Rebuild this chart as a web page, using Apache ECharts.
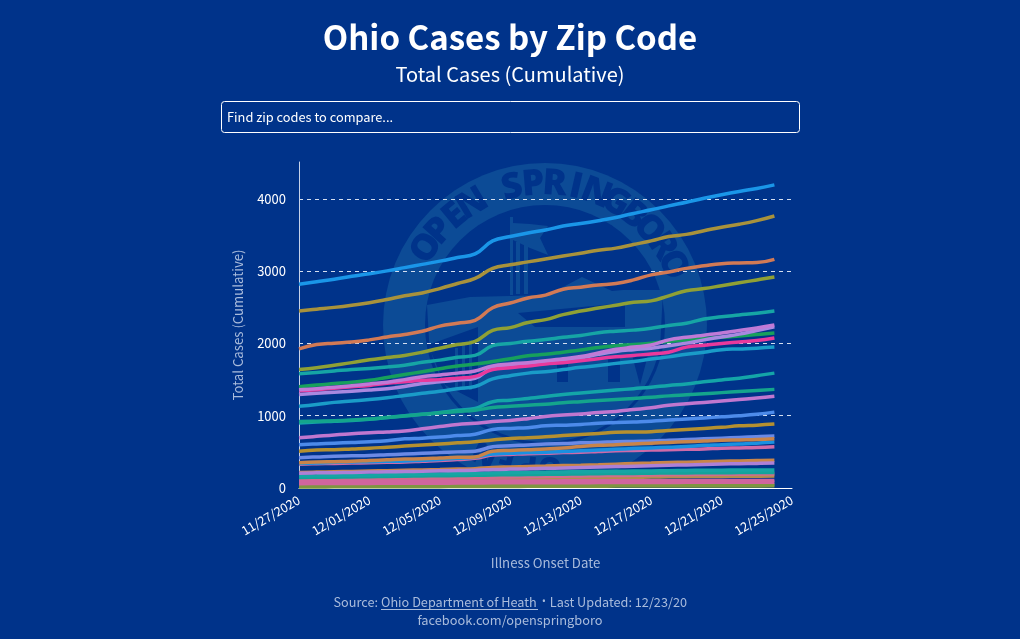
<!DOCTYPE html>
<html><head><meta charset="utf-8">
<script src="https://cdn.jsdelivr.net/npm/echarts@6/dist/echarts.min.js"></script>
<style>html,body{margin:0;padding:0;background:#00338a}#c{width:1020px;height:639px}</style>
</head><body><div id="c"></div>
<script>
const dates=["11/27/2020","11/28/2020","11/29/2020","11/30/2020","12/01/2020","12/02/2020","12/03/2020","12/04/2020","12/05/2020","12/06/2020","12/07/2020","12/08/2020","12/09/2020","12/10/2020","12/11/2020","12/12/2020","12/13/2020","12/14/2020","12/15/2020","12/16/2020","12/17/2020","12/18/2020","12/19/2020","12/20/2020","12/21/2020","12/22/2020","12/23/2020","12/24/2020","12/25/2020"];
const blue1=[2820,2855,2890,2930,2965,3005,3050,3095,3140,3190,3240,3420,3480,3530,3570,3625,3660,3700,3745,3800,3850,3905,3955,4010,4060,4105,4145,4195];
const gold1=[2450,2475,2500,2530,2565,2610,2660,2700,2760,2830,2900,3040,3090,3130,3170,3210,3250,3290,3320,3370,3420,3480,3510,3560,3610,3650,3700,3765];
const coral=[1925,1985,2005,2020,2050,2090,2125,2170,2240,2280,2320,2495,2560,2630,2670,2750,2780,2810,2830,2880,2950,2990,3040,3075,3105,3115,3120,3165];
const olive=[1640,1665,1700,1735,1775,1805,1835,1880,1935,1985,2030,2180,2220,2290,2330,2400,2450,2490,2530,2570,2590,2660,2730,2760,2800,2840,2880,2920];
const teal1=[1580,1600,1620,1640,1655,1675,1700,1740,1770,1810,1835,1970,2000,2030,2055,2085,2110,2150,2170,2185,2210,2250,2280,2340,2370,2395,2420,2450];
const green1=[1400,1425,1445,1465,1490,1530,1570,1610,1650,1690,1715,1750,1790,1830,1850,1880,1910,1945,1970,1985,2005,2030,2050,2070,2085,2105,2125,2145];
const lavender=[1295,1310,1325,1340,1355,1375,1405,1445,1470,1495,1520,1660,1680,1700,1745,1770,1800,1850,1890,1915,1935,1970,2005,2050,2090,2130,2180,2230];
const magenta=[1345,1360,1380,1400,1420,1450,1470,1490,1500,1520,1545,1640,1665,1690,1715,1735,1760,1790,1815,1835,1855,1880,1950,1975,2000,2020,2040,2075];
const orchid1=[1360,1375,1395,1415,1440,1465,1500,1540,1565,1590,1620,1690,1715,1735,1760,1790,1820,1870,1920,1950,1980,2050,2085,2115,2145,2180,2215,2255];
const cyan1=[1130,1155,1185,1205,1225,1250,1280,1310,1340,1375,1405,1510,1555,1590,1610,1640,1670,1695,1725,1750,1785,1815,1850,1880,1915,1925,1935,1950];
const teal2=[900,915,925,935,950,975,1000,1020,1045,1075,1100,1195,1215,1240,1265,1295,1315,1335,1355,1375,1395,1420,1440,1470,1495,1520,1555,1590];
const seaGreen=[920,925,930,940,955,975,995,1020,1040,1060,1075,1115,1130,1145,1160,1180,1195,1210,1225,1240,1255,1275,1290,1305,1320,1335,1350,1365];
const orchid2=[695,715,735,750,765,775,790,820,850,880,895,920,935,960,990,1010,1025,1045,1060,1085,1110,1145,1165,1185,1205,1225,1245,1270];
const cornflower=[600,610,620,630,640,655,680,690,705,725,745,810,825,835,860,870,880,895,905,915,925,940,955,970,985,1000,1020,1050];
const gold2=[510,525,530,540,550,565,580,595,610,625,640,665,685,695,710,725,740,755,770,775,780,795,810,825,840,860,870,885];
const pink2=[330,335,340,345,350,355,360,370,380,395,410,455,465,475,480,490,495,505,515,520,525,530,535,540,550,555,560,570];
const blue2=[340,345,355,360,365,370,375,385,395,410,425,470,480,490,495,505,515,525,535,545,555,565,575,590,600,610,620,635];
const periwinkle=[420,430,440,445,450,460,470,480,490,500,510,570,585,595,610,615,625,630,640,645,650,660,670,680,690,700,710,720];
const orange1=[350,360,365,370,380,390,400,405,415,425,430,510,520,530,540,555,575,590,600,610,620,630,640,650,660,665,670,680];
const orange2=[215,220,225,230,235,240,245,250,255,262,268,285,292,298,303,310,315,322,330,338,345,352,358,365,370,375,380,385];
const lavender2=[205,210,212,216,220,224,228,232,238,242,246,256,262,266,272,278,284,290,296,302,308,314,320,326,332,336,340,345];
const teal3=[165,168,172,175,178,182,186,190,194,197,200,208,212,215,218,222,225,228,231,234,237,240,243,245,247,248,249,250];
const teal4=[145,148,150,153,156,160,163,166,170,172,175,180,183,186,189,192,195,198,200,202,205,207,209,210,212,213,214,215];
const rose1=[110,113,116,119,122,125,128,132,135,138,141,150,153,156,160,163,166,170,173,176,179,182,185,187,189,191,193,195];
const tan1=[90,93,96,98,100,103,106,109,112,115,118,125,128,131,134,137,140,143,146,149,152,155,157,159,160,162,164,165];
const pink3=[90,91,91,92,92,93,93,94,94,95,95,97,97,98,98,99,99,100,100,101,101,102,102,103,103,104,104,105];
const pink4=[60,61,62,63,64,65,66,67,67,68,69,71,72,72,73,74,74,75,76,76,77,77,78,78,79,79,80,80];
const olive2=[25,26,27,28,28,29,30,31,31,32,33,35,36,36,37,38,39,39,40,41,41,42,43,43,44,44,45,45];
const green2=[15,15,16,17,17,18,18,19,19,20,21,22,22,23,24,24,25,25,26,26,27,27,28,28,29,29,29,30];

const seriesDefs=[
 [green2,'#7f9640'],[olive2,'#7f9640'],[tan1,'#b48b4c'],[rose1,'#cf6d8c'],[pink4,'#d0659e'],[pink3,'#d0659e'],[teal4,'#14a39a'],[teal3,'#16a5a5'],
 [orange2,'#c8854a'],[lavender2,'#ad80d6'],[pink2,'#cf6aa8'],[blue2,'#1a90e0'],[periwinkle,'#6a8ae6'],[orange1,'#c8844a'],[gold2,'#b59030'],[cornflower,'#4d8bea'],
 [orchid2,'#c077cf'],[teal2,'#14a5a8'],[seaGreen,'#14a58c'],[cyan1,'#1a9cc8'],[green1,'#17a05c'],[lavender,'#a888e0'],[magenta,'#e8399c'],[orchid1,'#c07ad6'],
 [teal1,'#16a5a5'],[olive,'#8fa035'],[coral,'#d27a55'],[gold1,'#a8923c'],[blue1,'#1a96e8']
];

const FONT='"Noto Sans CJK SC","Noto Sans",sans-serif';
const MUTED='#a9bcdc';
const WM='#0c4b96', BG='#00338a', CX=545, CY=325;

function arcText(str,startDeg,stepDeg,r,size){
  return [...str].map((ch,i)=>{
    const a=(startDeg+i*stepDeg)*Math.PI/180;   // clockwise from top
    return {type:'text',z:-5,silent:true,x:CX+r*Math.sin(a),y:CY-r*Math.cos(a),rotation:-a,
      style:{text:ch,fill:BG,font:'800 '+size+'px "Open Sans",sans-serif',align:'center',verticalAlign:'middle'}};
  });
}
const poly=(pts,fill)=>({type:'polygon',z:-6,silent:true,shape:{points:pts},style:{fill}});
const rect=(x,y,w,h,fill)=>({type:'rect',z:-6,silent:true,shape:{x,y,width:w,height:h},style:{fill}});
const lowerFill=[[427,305],[470,297],[548,295],[582,277],[612,291],[623,290],[663,290]];
for(let d=100;d<=262;d+=6){const a=d*Math.PI/180;lowerFill.push([CX+117*Math.sin(a),CY-117*Math.cos(a)]);}

const watermark=[
  {type:'circle',z:-8,silent:true,shape:{cx:CX,cy:CY,r:162},style:{fill:WM}},
  {type:'circle',z:-7,silent:true,shape:{cx:CX,cy:CY,r:120},style:{fill:BG}},
  poly(lowerFill,WM),
  rect(510,217,3,78,WM),poly([[513,223],[530,224],[548,226],[540,238],[548,255],[530,248],[513,240]],WM),
  rect(516,242,4,52,WM),rect(524,242,4,52,WM),
  poly([[518,313],[625,303],[625,327],[535,327]],BG),
  poly([[428,345],[478,327],[478,402],[445,385]],BG),
  rect(455,348,3,40,WM),rect(462,342,3,48,WM),rect(469,340,3,50,WM),
  rect(557,363,11,19,BG),rect(608,357,12,25,BG),poly([[632,355],[648,355],[640,385]],BG),
  ...arcText('OPEN SPRINGBORO',-57,8.7,141,36),
  ...arcText('OPEN',178,9,141,30),
];

const chart=echarts.init(document.getElementById('c'),null,{renderer:'canvas'});
chart.setOption({
  backgroundColor:BG,
  animation:false,
  grid:{left:299,right:228,top:162,bottom:151},
  xAxis:{type:'category',data:dates,boundaryGap:false,
    name:'Illness Onset Date',nameLocation:'middle',nameGap:68,
    nameTextStyle:{color:MUTED,fontSize:13.2,fontFamily:FONT},
    axisLine:{lineStyle:{color:'#ffffff',width:1}},axisTick:{show:false},splitLine:{show:false},
    axisLabel:{interval:3,rotate:30,color:'#fff',fontSize:12.5,fontFamily:FONT,margin:11,hideOverlap:false}},
  yAxis:{type:'value',min:0,max:4512,interval:1000,
    name:'Total Cases (Cumulative)',nameLocation:'middle',nameGap:54,
    nameTextStyle:{color:MUTED,fontSize:13.2,fontFamily:FONT},
    axisLine:{show:true,lineStyle:{color:'#c6d2e8',width:1}},axisTick:{show:false},
    axisLabel:{color:'#fff',fontSize:13,fontFamily:FONT,margin:13,showMaxLabel:false,formatter:v=>String(v)},
    splitLine:{show:true,showMinLine:false,showMaxLine:false,lineStyle:{color:'#d5dff0',width:1,type:[4,4]}}},
  series:seriesDefs.map(([d,c])=>({type:'line',data:d,smooth:0.45,showSymbol:false,silent:true,
     lineStyle:{color:c,width:3.5,cap:'butt'},itemStyle:{color:c}})),
  graphic:{elements:[
    ...watermark,
    {type:'text',x:510,y:37,style:{text:'Ohio Cases by Zip Code',fill:'#fff',font:'700 33px '+FONT,align:'center',verticalAlign:'middle'}},
    {type:'text',x:510,y:74,style:{text:'Total Cases (Cumulative)',fill:'#fff',font:'400 20px '+FONT,align:'center',verticalAlign:'middle'}},
    {type:'rect',shape:{x:221.5,y:101.5,width:578,height:31,r:3},style:{fill:'transparent',stroke:'#fff',lineWidth:1}},
    {type:'text',x:227,y:117,style:{text:'Find zip codes to compare...',fill:'#fff',font:'400 12.8px '+FONT,align:'left',verticalAlign:'middle'}},
    {type:'text',x:378,y:602,style:{text:'Source:',fill:MUTED,font:'400 12.7px '+FONT,align:'right',verticalAlign:'middle'}},
    {type:'text',x:381,y:602,style:{text:'Ohio Department of Heath',fill:MUTED,font:'400 12.7px '+FONT,align:'left',verticalAlign:'middle'}},
    {type:'text',x:544,y:602,style:{text:'•',fill:MUTED,font:'400 10px "Noto Sans",sans-serif',align:'center',verticalAlign:'middle'}},
    {type:'text',x:687,y:602,style:{text:'Last Updated: 12/23/20',fill:MUTED,font:'400 12.7px '+FONT,align:'right',verticalAlign:'middle'}},
    {type:'text',x:510,y:620,style:{text:'facebook.com/openspringboro',fill:MUTED,font:'400 12.8px '+FONT,align:'center',verticalAlign:'middle'}},
    {type:'rect',shape:{x:381,y:609,width:157,height:1},style:{fill:MUTED}}
  ]}
});
</script></body></html>
